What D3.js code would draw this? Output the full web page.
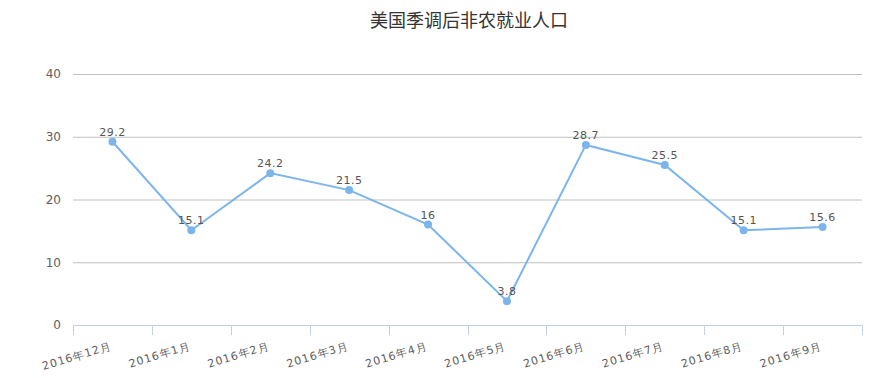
<!DOCTYPE html>
<html><head><meta charset="utf-8">
<script src="https://cdn.jsdelivr.net/npm/d3@7"></script>
<style>body{margin:0;background:#fff}svg{display:block}</style>
</head><body>
<svg id="c" width="870" height="378"></svg>
<script>
const title = "美国季调后非农就业人口";
const categories = ["2016年12月","2016年1月","2016年2月","2016年3月","2016年4月","2016年5月","2016年6月","2016年7月","2016年8月","2016年9月"];
const values = [29.2, 15.1, 24.2, 21.5, 16, 3.8, 28.7, 25.5, 15.1, 15.6];
const yTicks = [0, 10, 20, 30, 40];

(function(){
const svg = d3.select("#c");
const font = "'DejaVu Sans', Verdana, sans-serif";
const pl = 73, pr = 862, pt = 74, pb = 325;

const x = d3.scaleBand().domain(categories).range([pl, pr]);
const y = d3.scaleLinear().domain([0, 40]).range([pb, pt]);

svg.append("text").attr("x", 469).attr("y", 27).attr("text-anchor", "middle")
  .style("font-family", "'Noto Sans CJK SC', sans-serif").style("font-size", "18px").style("fill", "#333")
  .text(title);

// grid
const yAxis = d3.axisLeft(y).tickValues(yTicks).tickSize(-(pr - pl)).tickFormat(d3.format("d"));
const gy = svg.append("g").attr("transform", `translate(${pl},0)`).call(yAxis);
gy.select(".domain").remove();
gy.selectAll(".tick line").attr("stroke", "#c0c0c0").attr("stroke-width", 1)
  .filter(d => d === 0).remove();
gy.selectAll(".tick text").attr("x", -12).style("font-family", font).style("font-size", "12px").style("fill", "#606060");

// x axis
const xAxis = d3.axisBottom(x).tickSize(0).tickSizeOuter(0);
const gx = svg.append("g").attr("transform", `translate(0,${pb})`).call(xAxis);
gx.select(".domain").attr("stroke", "#C0D0E0").attr("stroke-width", 1).attr("d", `M${pl},0.5H${pr}`);
const bounds = categories.map(c => x(c)).concat([pr]);
gx.selectAll(".btick").data(bounds).enter().append("line").attr("class", "btick")
  .attr("x1", d => Math.round(d) + 0.5).attr("x2", d => Math.round(d) + 0.5)
  .attr("y1", 0).attr("y2", 10).attr("stroke", "#C0D0E0");
gx.selectAll(".tick text")
  .attr("text-anchor", "end").attr("dy", null)
  .attr("transform", `translate(0,24) rotate(-17)`)
  .attr("y", 0).attr("x", 0)
  .style("font-family", font).style("font-size", "11px").style("fill", "#606060").style("letter-spacing", "1px");

// line
const cx = d => x(d.c) + x.bandwidth() / 2;
const data = categories.map((c, i) => ({c, v: values[i]}));
svg.append("path").datum(data)
  .attr("d", d3.line().x(cx).y(d => y(d.v)))
  .attr("fill", "none").attr("stroke", "#7cb5ec").attr("stroke-width", 2);
svg.selectAll(".pt").data(data).enter().append("circle")
  .attr("cx", cx).attr("cy", d => y(d.v)).attr("r", 4).attr("fill", "#7cb5ec");
svg.selectAll(".lbl").data(data).enter().append("text")
  .attr("x", cx).attr("y", d => y(d.v) - 6).attr("text-anchor", "middle")
  .style("font-family", font).style("font-size", "11px").style("fill", "#555").style("letter-spacing", "0.5px")
  .text(d => d.v);
})();
</script>
</body></html>
